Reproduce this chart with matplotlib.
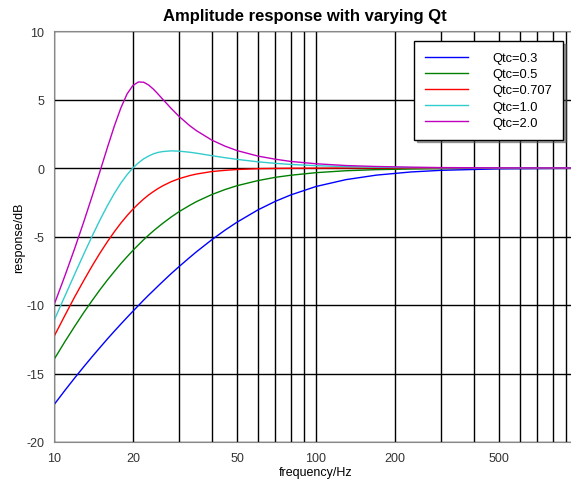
import matplotlib.pyplot as plt
import numpy as np

plt.rcParams['font.family'] = ['Liberation Sans', 'DejaVu Sans']
plt.rcParams['axes.unicode_minus'] = False

# frequency points (Hz)
freq = [10, 11, 12, 13, 14, 15, 16, 17, 18, 19, 20, 21, 22, 23, 24, 25, 26, 28, 30, 33,
        35, 40, 45, 50, 60, 70, 80, 100, 130, 170, 230, 300, 500, 1000]

# response in dB for each Qtc
q03 = [-17.28, -16.24, -15.32, -14.50, -13.76, -13.09, -12.47, -11.91, -11.39, -10.91,
       -10.46, -10.04, -9.64, -9.27, -8.93, -8.60, -8.29, -7.71, -7.20, -6.52,
       -6.11, -5.24, -4.53, -3.95, -3.06, -2.43, -1.97, -1.35, -0.85, -0.52,
       -0.29, -0.17, -0.06, -0.02]
q05 = [-13.98, -12.68, -11.55, -10.54, -9.66, -8.87, -8.17, -7.55, -6.98, -6.48,
       -6.02, -5.61, -5.23, -4.89, -4.58, -4.30, -4.04, -3.58, -3.19, -2.72,
       -2.45, -1.94, -1.57, -1.29, -0.92, -0.68, -0.53, -0.34, -0.20, -0.12,
       -0.07, -0.04, -0.01, 0.0]
q0707 = [-12.30, -10.77, -9.40, -8.20, -7.13, -6.19, -5.37, -4.65, -4.02, -3.48,
         -3.01, -2.61, -2.26, -1.96, -1.71, -1.49, -1.30, -1.00, -0.78, -0.55,
         -0.44, -0.26, -0.17, -0.11, -0.05, -0.03, -0.02, -0.01, 0.0, 0.0,
         0.0, 0.0, 0.0, 0.0]
q10 = [-11.14, -9.36, -7.74, -6.27, -4.95, -3.77, -2.74, -1.85, -1.10, -0.49,
       0.0, 0.38, 0.67, 0.88, 1.04, 1.14, 1.20, 1.25, 1.23, 1.15,
       1.08, 0.90, 0.75, 0.63, 0.45, 0.34, 0.26, 0.17, 0.10, 0.06,
       0.03, 0.02, 0.01, 0.0]
q20 = [-10.00, -7.88, -5.86, -3.91, -2.02, -0.21, 1.51, 3.07, 4.39, 5.40,
       6.02, 6.28, 6.26, 6.05, 5.74, 5.38, 5.02, 4.35, 3.77, 3.08,
       2.72, 2.04, 1.59, 1.27, 0.87, 0.64, 0.48, 0.31, 0.18, 0.11,
       0.06, 0.03, 0.01, 0.0]

labels = ['Qtc=0.3', 'Qtc=0.5', 'Qtc=0.707', 'Qtc=1.0', 'Qtc=2.0']
colors = ['#0000ff', '#008000', '#ff0000', '#33cccc', '#bf00bf']

fig = plt.figure(figsize=(5.71, 4.81), dpi=100)
# axes runs a little past the right edge, like the original screenshot
ax = fig.add_axes([54 / 571, 1 - 443 / 481, 524 / 571, 411 / 481])

for ys, lab, c in zip([q03, q05, q0707, q10, q20], labels, colors):
    ax.semilogx(freq, ys, color=c, lw=1.0, label=lab)

ax.set_xlim(10, 1000)
ax.set_ylim(-20, 10)
ax.set_yticks([-20, -15, -10, -5, 0, 5, 10])
ax.set_xticks([10, 20, 50, 100, 200, 500])
ax.set_xticklabels(['10', '20', '50', '100', '200', '500'])
ax.xaxis.set_minor_formatter(plt.NullFormatter())
ax.tick_params(which='both', length=0, labelsize=9, colors='#333333', pad=7)

ax.grid(True, which='both', axis='x', color='black', lw=1.0)
ax.grid(True, which='major', axis='y', color='black', lw=1.0)
for s in ax.spines.values():
    s.set_color('#888888')

# title sits a bit left of the (cropped) axes centre
fig.text(305 / 571, 1 - 16 / 481, 'Amplitude response with varying Qt', fontsize=12,
         fontweight='bold', ha='center', va='center')
ax.set_xlabel('frequency/Hz', fontsize=9, labelpad=2)
ax.set_ylabel('response/dB', fontsize=9, labelpad=1)

leg = ax.legend(loc='upper right', bbox_to_anchor=(563 / 571, 1 - 42 / 481),
                bbox_transform=fig.transFigure, borderaxespad=0, fontsize=9.3,
                fancybox=False, shadow=True, framealpha=1, edgecolor='black',
                handlelength=3.3, handletextpad=1.9, labelspacing=0.32, borderpad=0.85)
leg.get_frame().set_linewidth(1.0)

plt.savefig('out.png', dpi=100)
